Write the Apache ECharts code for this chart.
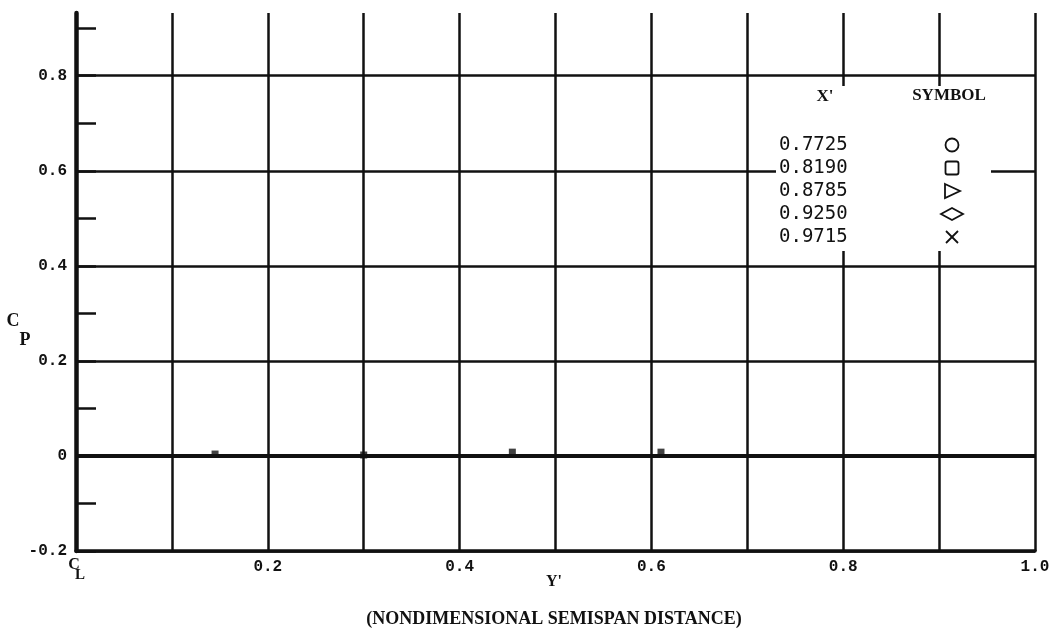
<!DOCTYPE html>
<html><head><meta charset="utf-8">
<script src="https://cdn.jsdelivr.net/npm/echarts@6/dist/echarts.min.js"></script>
<style>html,body{margin:0;padding:0;background:#fff}#c{width:1054px;height:634px}</style>
</head><body><div id="c"></div><script>
// ---- data ----
const spanY = [0.145, 0.30, 0.455, 0.61];          // Y' (nondimensional semispan)
const cpValues = [0.004, 0.002, 0.008, 0.008];     // C_P
const stationX = ['0.7725', '0.8190', '0.8785', '0.9250', '0.9715'];
const stationSymbols = ['circle', 'square', 'triangle', 'diamond', 'cross'];
const xTickValues = [0, 0.2, 0.4, 0.6, 0.8, 1.0];
const xTickLabels = ['CL', '0.2', '0.4', '0.6', '0.8', '1.0'];
const yTickValues = [-0.2, 0, 0.2, 0.4, 0.6, 0.8];
const yTickLabels = ['-0.2', '0', '0.2', '0.4', '0.6', '0.8'];
const yAllTicks = [-0.2, -0.1, 0, 0.1, 0.2, 0.3, 0.4, 0.5, 0.6, 0.7, 0.8, 0.9];

const black = '#111';
const tickFont = '"Liberation Mono", "DejaVu Sans Mono", monospace';
const serif = '"Liberation Serif", "DejaVu Serif", serif';

function findLabel(values, labels, v) {
  for (let i = 0; i < values.length; i++) if (Math.abs(values[i] - v) < 1e-6) return labels[i];
  return '';
}

const chart = echarts.init(document.getElementById('c'), null, {renderer: 'canvas'});

function keySymbol(name, cx, cy) {
  const st = {fill: 'none', stroke: black, lineWidth: 1.8};
  if (name === 'circle') return {type: 'circle', shape: {cx: cx, cy: cy, r: 6.5}, style: st, z: 11};
  if (name === 'square') return {type: 'rect', shape: {x: cx - 6.5, y: cy - 6.5, width: 13, height: 13, r: 2}, style: st, z: 11};
  if (name === 'triangle') return {type: 'polygon', shape: {points: [[cx - 7, cy - 7], [cx + 8, cy], [cx - 7, cy + 7]]}, style: st, z: 11};
  if (name === 'diamond') return {type: 'polygon', shape: {points: [[cx - 11, cy], [cx, cy - 6], [cx + 11, cy], [cx, cy + 6]]}, style: st, z: 11};
  return {type: 'group', z: 11, children: [
    {type: 'line', shape: {x1: cx - 6, y1: cy - 6, x2: cx + 6, y2: cy + 6}, style: st, z: 11},
    {type: 'line', shape: {x1: cx + 6, y1: cy - 6, x2: cx - 6, y2: cy + 6}, style: st, z: 11}
  ]};
}

const keyElems = [
  {type: 'rect', shape: {x: 776, y: 86, width: 215, height: 165}, style: {fill: '#fff'}, z: 10},
  {type: 'text', x: 825, y: 97, z: 11, style: {text: "X'", font: 'bold 17px ' + serif, fill: black, align: 'center', verticalAlign: 'middle'}},
  {type: 'text', x: 949, y: 96, z: 11, style: {text: 'SYMBOL', font: 'bold 17px ' + serif, fill: black, align: 'center', verticalAlign: 'middle'}}
];
stationX.forEach(function (s, i) {
  const cy = 145 + i * 23;
  keyElems.push({type: 'text', x: 779, y: cy, z: 11, style: {text: s, font: '19px "DejaVu Sans Mono", monospace', fill: black, align: 'left', verticalAlign: 'middle'}});
  keyElems.push(keySymbol(stationSymbols[i], 952, cy));
});

const titleElems = [
  {type: 'text', x: 13, y: 321, style: {text: 'C', font: 'bold 18px ' + serif, fill: black, align: 'center', verticalAlign: 'middle'}},
  {type: 'text', x: 25, y: 340, style: {text: 'P', font: 'bold 18px ' + serif, fill: black, align: 'center', verticalAlign: 'middle'}},
  {type: 'text', x: 554, y: 582, style: {text: "Y'", font: 'bold 16px ' + serif, fill: black, align: 'center', verticalAlign: 'middle'}},
  {type: 'text', x: 554, y: 619, style: {text: '(NONDIMENSIONAL SEMISPAN DISTANCE)', font: 'bold 18px ' + serif, fill: black, align: 'center', verticalAlign: 'middle'}}
];

const option = {
  backgroundColor: '#fff',
  animation: false,
  grid: {left: 76, right: 19, top: 13, bottom: 83},
  xAxis: {
    type: 'value', min: 0, max: 1, interval: 0.1,
    axisLine: {show: true, onZero: false, lineStyle: {color: black, width: 3.5}},
    axisTick: {show: false},
    splitLine: {show: true, lineStyle: {color: black, width: 2.5}},
    axisLabel: {
      customValues: xTickValues, margin: 8, color: black,
      fontFamily: tickFont, fontWeight: 'bold', fontSize: 16,
      formatter: function (v) {
        const t = findLabel(xTickValues, xTickLabels, v);
        if (t === 'CL') return '{c|C}\n{l|L}';
        return t;
      },
      rich: {
        c: {fontFamily: serif, fontWeight: 'bold', fontSize: 16, lineHeight: 11, color: black, padding: [0, 4, 0, 0]},
        l: {fontFamily: serif, fontWeight: 'bold', fontSize: 15, lineHeight: 11, color: black, padding: [0, 0, 0, 8]}
      }
    }
  },
  yAxis: {
    type: 'value', min: -0.2, max: 0.932, interval: 0.2,
    axisLine: {show: true, onZero: false, lineStyle: {color: black, width: 4.5}},
    axisTick: {show: true, inside: true, length: 20, customValues: yAllTicks, lineStyle: {color: black, width: 2.5}},
    splitLine: {show: true, showMaxLine: false, lineStyle: {color: [black, 'rgba(0,0,0,0)'], width: 2.5}},
    axisLabel: {
      customValues: yTickValues, margin: 9, color: black,
      fontFamily: tickFont, fontWeight: 'bold', fontSize: 16,
      formatter: function (v) { return findLabel(yTickValues, yTickLabels, v); }
    }
  },
  series: [{
    type: 'scatter',
    name: 'CP',
    data: spanY.map(function (x, i) { return [x, cpValues[i]]; }),
    symbol: 'rect', symbolSize: 7,
    itemStyle: {color: black},
    z: 5,
    markLine: {
      silent: true, symbol: 'none', label: {show: false},
      lineStyle: {color: black, width: 4, type: 'solid'},
      data: [{yAxis: 0}]
    }
  }],
  graphic: keyElems.concat(titleElems)
};
chart.setOption(option);
</script></body></html>
